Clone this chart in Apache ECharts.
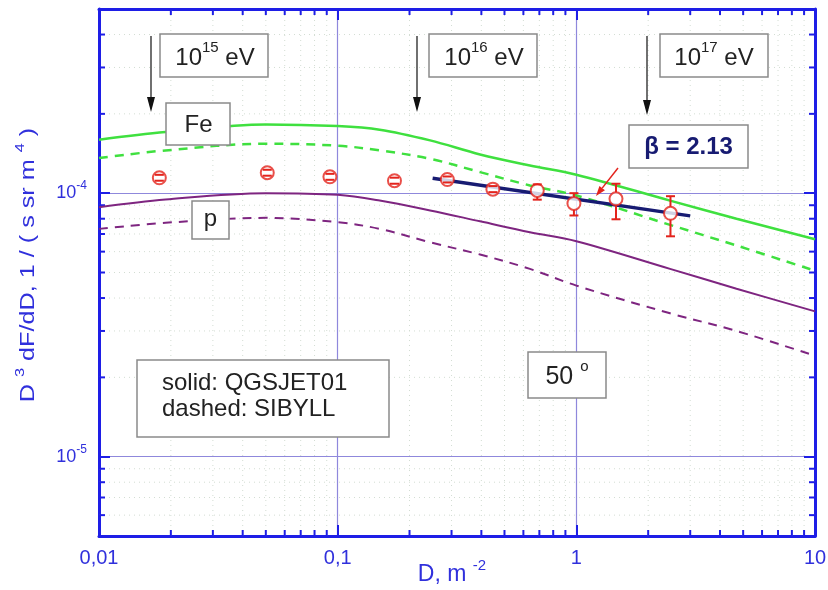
<!DOCTYPE html>
<html><head><meta charset="utf-8">
<script src="https://cdn.jsdelivr.net/npm/echarts@6/dist/echarts.min.js"></script>
<style>html,body{margin:0;padding:0;background:#fff}#c{width:828px;height:590px}</style>
</head><body><div id="c"></div>
<script>
// ---------- data ----------
const X_MIN = 0.01, X_MAX = 10;
const Y_MIN = 5e-6, Y_MAX = 5e-4;

const xMinorTicks = [0.02,0.03,0.04,0.05,0.06,0.07,0.08,0.09,0.2,0.3,0.4,0.5,0.6,0.7,0.8,0.9,2,3,4,5,6,7,8,9];
const yMinorTicks = [6e-6,7e-6,8e-6,9e-6,2e-5,3e-5,4e-5,5e-5,6e-5,7e-5,8e-5,9e-5,2e-4,3e-4,4e-4];

// model curves (D, m^-2)
const curveD      = [0.01, 0.019, 0.05, 0.1, 0.15, 0.244, 0.395, 0.639, 1, 2.47, 4.69, 10];
const feQgsjet    = [1.596e-4,1.706e-4,1.824e-4,1.797e-4,1.742e-4,1.586e-4,1.403e-4,1.274e-4,1.175e-4,0.937e-4,0.800e-4,0.669e-4];
const feSibyll    = [1.359e-4,1.453e-4,1.541e-4,1.514e-4,1.453e-4,1.351e-4,1.202e-4,1.070e-4,0.980e-4,0.758e-4,0.633e-4,0.508e-4];
const pQgsjet     = [0.885e-4,0.946e-4,1.000e-4,0.986e-4,0.938e-4,0.860e-4,0.782e-4,0.711e-4,0.657e-4,0.516e-4,0.434e-4,0.356e-4];
const pSibyll     = [0.732e-4,0.772e-4,0.806e-4,0.776e-4,0.732e-4,0.651e-4,0.585e-4,0.516e-4,0.446e-4,0.350e-4,0.300e-4,0.2415e-4];

// measured points
const dataD    = [0.0179, 0.0507, 0.0928, 0.173, 0.288, 0.447, 0.686, 0.977, 1.466, 2.48];
const dataFlux = [1.144e-4,1.196e-4,1.154e-4,1.115e-4,1.127e-4,1.036e-4,1.024e-4,0.914e-4,0.952e-4,0.839e-4];
const errLow   = [1.115e-4,1.165e-4,1.124e-4,1.086e-4,1.098e-4,1.009e-4,0.945e-4,0.823e-4,0.796e-4,0.686e-4];
const errHigh  = [1.174e-4,1.227e-4,1.184e-4,1.145e-4,1.157e-4,1.064e-4,1.080e-4,1.000e-4,1.086e-4,0.974e-4];

// power-law fit (beta = 2.13)
const fitD    = [0.25, 3.0];
const fitFlux = [1.14e-4, 0.82e-4];

// ---------- styles ----------
const AXIS = '#1e1ee6';
const LABEL = '#3030dc';
const MAJOR_GRID = '#8f88dc';
const MINOR_GRID = '#d3ddd3';
const GREEN = '#3fe03f';
const PURPLE = '#7e2580';
const RED = '#e3231c';
const NAVY = '#171b72';
const FONT = 'Liberation Sans, Arial, sans-serif';

const chart = echarts.init(document.getElementById('c'), null, {renderer: 'canvas'});

function xLabel(v) {
  const e = Math.round(Math.log10(v));
  if (Math.abs(Math.log10(v) - e) > 1e-6) return '';
  if (e < 0) return '0,' + '0'.repeat(-e - 1) + '1';
  return '1' + '0'.repeat(e);
}
function yLabel(v) {
  const e = Math.round(Math.log10(v));
  if (Math.abs(Math.log10(v) - e) > 1e-6) return '';
  return '{b|10}{s|' + e + '}';
}

function minorX(params, api) {
  const x = api.value(0);
  const b = api.coord([x, Y_MIN]);
  const t = api.coord([x, Y_MAX]);
  return {type: 'group', children: [
    {type: 'line', shape: {x1: b[0], y1: b[1], x2: t[0], y2: t[1]}, style: {stroke: MINOR_GRID, lineWidth: 1, lineDash: [1, 4]}},
    {type: 'line', shape: {x1: b[0], y1: b[1], x2: b[0], y2: b[1] - 6}, style: {stroke: AXIS, lineWidth: 2}},
    {type: 'line', shape: {x1: t[0], y1: t[1], x2: t[0], y2: t[1] + 6}, style: {stroke: AXIS, lineWidth: 2}}
  ]};
}
function minorY(params, api) {
  const y = api.value(1);
  const l = api.coord([X_MIN, y]);
  const r = api.coord([X_MAX, y]);
  return {type: 'group', children: [
    {type: 'line', shape: {x1: l[0], y1: l[1], x2: r[0], y2: r[1]}, style: {stroke: MINOR_GRID, lineWidth: 1, lineDash: [1, 4]}},
    {type: 'line', shape: {x1: l[0], y1: l[1], x2: l[0] + 6, y2: l[1]}, style: {stroke: AXIS, lineWidth: 2}},
    {type: 'line', shape: {x1: r[0], y1: r[1], x2: r[0] - 6, y2: r[1]}, style: {stroke: AXIS, lineWidth: 2}}
  ]};
}
function errorBar(params, api) {
  const x = api.value(0);
  const c = api.coord([x, api.value(1)]);
  const lo = api.coord([x, api.value(2)]);
  const hi = api.coord([x, api.value(3)]);
  const r = 6.5, w = 4.5;
  const st = {stroke: RED, lineWidth: 2};
  const ch = [
    {type: 'line', shape: {x1: c[0] - w, y1: hi[1], x2: c[0] + w, y2: hi[1]}, style: st},
    {type: 'line', shape: {x1: c[0] - w, y1: lo[1], x2: c[0] + w, y2: lo[1]}, style: st}
  ];
  if (hi[1] < c[1] - r) ch.push({type: 'line', shape: {x1: c[0], y1: hi[1], x2: c[0], y2: c[1] - r}, style: st});
  if (lo[1] > c[1] + r) ch.push({type: 'line', shape: {x1: c[0], y1: c[1] + r, x2: c[0], y2: lo[1]}, style: st});
  return {type: 'group', children: ch};
}

function pairs(xs, ys) { return xs.map((x, i) => [x, ys[i]]); }

const axisCommon = {
  type: 'log', logBase: 10,
  axisLine: {show: true, onZero: false, lineStyle: {color: AXIS, width: 3}},
  axisTick: {show: true, inside: true, length: 11, lineStyle: {color: AXIS, width: 2}},
  minorTick: {show: false},
  minorSplitLine: {show: false}
};

// ---------- annotations (graphic) ----------
const supRich = (bs, ss, lb, ls, color, weight) => ({
  b: {fontSize: bs, lineHeight: lb, fill: color, fontFamily: FONT, fontWeight: weight || 'normal'},
  s: {fontSize: ss, lineHeight: ls, fill: color, fontFamily: FONT, verticalAlign: 'top'}
});
function box(x, y, w, h) {
  return {type: 'rect', shape: {x: x, y: y, width: w, height: h}, style: {fill: '#fff', stroke: '#8a8a8a', lineWidth: 1.5}, z: 50};
}
function label(x, y, text, rich, extra) {
  return Object.assign({type: 'text', x: x, y: y, z: 51,
    style: {text: text, rich: rich, align: 'center', verticalAlign: 'middle', fill: '#222', fontFamily: FONT, fontSize: 24}}, extra || {});
}
function arrowDown(x, y1, y2) {
  return [
    {type: 'line', shape: {x1: x, y1: y1, x2: x, y2: y2 - 12}, style: {stroke: '#111', lineWidth: 1.2}, z: 50},
    {type: 'polygon', shape: {points: [[x - 4, y2 - 15], [x + 4, y2 - 15], [x, y2]]}, style: {fill: '#111'}, z: 50}
  ];
}
function arrowTo(x1, y1, x2, y2, color) {
  const a = Math.atan2(y2 - y1, x2 - x1), L = 10, W = 3.5;
  const bx = x2 - L * Math.cos(a), by = y2 - L * Math.sin(a);
  const px = -Math.sin(a) * W, py = Math.cos(a) * W;
  return [
    {type: 'line', shape: {x1: x1, y1: y1, x2: bx, y2: by}, style: {stroke: color, lineWidth: 1.5}, z: 50},
    {type: 'polygon', shape: {points: [[bx + px, by + py], [bx - px, by - py], [x2, y2]]}, style: {fill: color}, z: 50}
  ];
}
const energyRich = supRich(24, 15, 35, 14, '#222');
const graphics = [].concat(
  arrowDown(151, 36, 112), arrowDown(417, 36, 112), arrowDown(647, 36, 115),
  [box(160, 34, 108, 43), label(215, 58, '{b|10}{s|15}{b| eV}', energyRich)],
  [box(429, 34, 108, 43), label(484, 58, '{b|10}{s|16}{b| eV}', energyRich)],
  [box(660, 34, 108, 43), label(714, 58, '{b|10}{s|17}{b| eV}', energyRich)],
  [box(166, 103, 64, 42), label(198.5, 125, 'Fe')],
  [box(192, 201, 37, 38), label(210.5, 219, 'p')],
  [box(629, 125, 119, 43), label(688.5, 147, 'β = 2.13', null, {style: {text: 'β = 2.13', align: 'center', verticalAlign: 'middle', fill: NAVY, fontFamily: FONT, fontSize: 24, fontWeight: 'bold'}})],
  arrowTo(618, 168, 596, 196, RED),
  [box(137, 360, 252, 77),
   {type: 'text', x: 162, y: 383, z: 51, style: {text: 'solid: QGSJET01', align: 'left', verticalAlign: 'middle', fill: '#222', fontFamily: FONT, fontSize: 24}},
   {type: 'text', x: 162, y: 409, z: 51, style: {text: 'dashed: SIBYLL', align: 'left', verticalAlign: 'middle', fill: '#222', fontFamily: FONT, fontSize: 24}}],
  [box(528, 352, 78, 46), label(567, 377, '{b|50 }{s|o}', supRich(25, 15, 35, 14, '#222'))],
  // axis titles
  [{type: 'text', x: 28, y: 265, rotation: Math.PI / 2, scaleX: 1.26, z: 51,
    style: {text: '{b|D }{s|3}{b| dF/dD, 1 / ( s sr m }{s|4}{b| )}', align: 'center', verticalAlign: 'middle',
      rich: supRich(20, 13, 28, 13, LABEL)}},
   {type: 'text', x: 452, y: 575, z: 51,
    style: {text: '{b|D, m }{s|-2}', align: 'center', verticalAlign: 'middle', rich: supRich(23, 15, 34, 16, LABEL)}}]
);

const option = {
  animation: false,
  backgroundColor: '#fff',
  grid: {left: 99, right: 13, top: 9, bottom: 54, containLabel: false, outerBoundsMode: 'none'},
  xAxis: [
    Object.assign({}, axisCommon, {position: 'bottom', min: X_MIN, max: X_MAX,
      axisLabel: {show: true, color: LABEL, fontSize: 20, fontFamily: FONT, margin: 12, formatter: xLabel},
      splitLine: {show: true, lineStyle: {color: MAJOR_GRID, width: 1.2}}}),
    Object.assign({}, axisCommon, {position: 'top', min: X_MIN, max: X_MAX, axisLabel: {show: false}, splitLine: {show: false}})
  ],
  yAxis: [
    Object.assign({}, axisCommon, {position: 'left', min: Y_MIN, max: Y_MAX,
      axisLabel: {show: true, margin: 12, formatter: yLabel, rich: {
        b: {fontSize: 18, color: LABEL, fontFamily: FONT, lineHeight: 26},
        s: {fontSize: 12, color: LABEL, fontFamily: FONT, lineHeight: 12, verticalAlign: 'top'}}},
      splitLine: {show: true, lineStyle: {color: MAJOR_GRID, width: 1.2}}}),
    Object.assign({}, axisCommon, {position: 'right', min: Y_MIN, max: Y_MAX, axisLabel: {show: false}, splitLine: {show: false}})
  ],
  graphic: graphics,
  series: [
    {type: 'custom', name: 'xminor', renderItem: minorX, data: xMinorTicks.map(v => [v, Y_MIN]), silent: true, z: 1, clip: false},
    {type: 'custom', name: 'yminor', renderItem: minorY, data: yMinorTicks.map(v => [X_MIN, v]), silent: true, z: 1, clip: false},
    {type: 'line', name: 'Fe QGSJET01', data: pairs(curveD, feQgsjet), smooth: 0.35, showSymbol: false, lineStyle: {color: GREEN, width: 2.5}, z: 2},
    {type: 'line', name: 'Fe SIBYLL', data: pairs(curveD, feSibyll), smooth: 0.35, showSymbol: false, lineStyle: {color: GREEN, width: 2.5, type: [9, 7]}, z: 2},
    {type: 'line', name: 'p QGSJET01', data: pairs(curveD, pQgsjet), smooth: 0.35, showSymbol: false, lineStyle: {color: PURPLE, width: 2}, z: 2},
    {type: 'line', name: 'p SIBYLL', data: pairs(curveD, pSibyll), smooth: 0.35, showSymbol: false, lineStyle: {color: PURPLE, width: 2, type: [9, 7]}, z: 2},
    {type: 'line', name: 'fit', data: pairs(fitD, fitFlux), showSymbol: false, lineStyle: {color: NAVY, width: 3.5}, z: 3},
    {type: 'scatter', name: 'data', data: pairs(dataD, dataFlux), symbol: 'emptyCircle', symbolSize: 13,
      itemStyle: {color: RED, borderColor: RED, borderWidth: 2.8}, z: 4},
    {type: 'custom', name: 'errors', renderItem: errorBar,
      data: dataD.map((d, i) => [d, dataFlux[i], errLow[i], errHigh[i]]), encode: {x: 0, y: 1}, z: 5, clip: false}
  ]
};
chart.setOption(option);
</script></body></html>
